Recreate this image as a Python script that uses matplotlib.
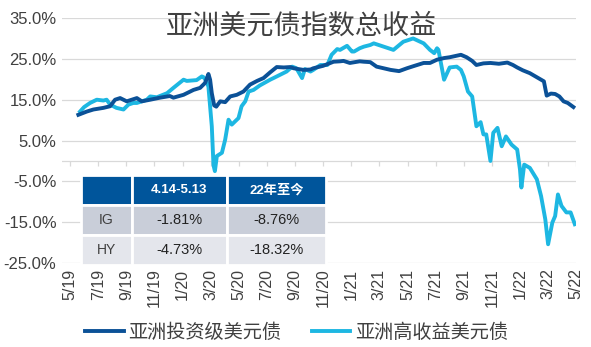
import matplotlib.pyplot as plt

# x = months since May 2019 (tick 0 = 5/19)
ig_m = [0.59, 1.19, 1.66, 2.37, 2.85, 3.2, 3.56, 4.03, 4.39, 4.75, 5.1, 5.7, 6.4, 7.1, 7.35,
        8.07, 8.78, 9.25, 9.6, 9.84, 9.96, 10.08, 10.25, 10.4, 10.68, 11.03, 11.39, 11.86,
        12.33, 12.8, 13.3, 13.76, 14.23, 14.7, 15.2, 15.66, 15.9, 16.6, 17.1, 17.3, 18.0,
        18.74, 19.2, 19.45, 19.9, 20.6, 20.9, 21.35, 21.8, 22.8, 23.4, 23.96, 24.5, 25.15,
        25.6, 26.1, 26.6, 27.0, 27.8, 28.2, 28.6, 28.9, 29.4, 29.9, 30.5, 31.1, 31.5, 31.8,
        32.2, 32.7, 33.2, 33.7, 33.9, 34.2, 34.5, 34.8, 35.1, 35.4, 35.8]
ig_v = [11.3, 12.1, 12.6, 13.0, 13.4, 15.0, 15.4, 14.6, 15.0, 15.4, 14.6, 15.0, 15.5, 15.9, 15.5,
        16.2, 17.4, 17.9, 19.1, 21.3, 19.9, 16.6, 13.6, 13.3, 14.6, 14.4, 15.8, 16.2,
        17.0, 18.7, 19.6, 20.3, 21.7, 23.0, 22.9, 23.0, 22.7, 22.3, 22.4, 22.7, 23.3,
        24.3, 24.4, 24.5, 24.0, 24.4, 24.3, 24.2, 23.1, 22.3, 22.0, 22.7, 23.3, 24.0,
        24.0, 24.8, 25.2, 25.4, 26.0, 25.4, 24.5, 23.5, 23.9, 24.0, 23.8, 24.1, 23.5, 22.9,
        22.2, 21.5, 20.5, 19.5, 16.0, 16.5, 16.4, 15.8, 14.6, 14.2, 13.2]

hy_m = [0.71, 1.0, 1.42, 1.9, 2.37, 2.6, 2.85, 3.3, 3.8, 4.15, 4.5, 4.75, 5.46, 5.7, 6.17,
        6.9, 7.35, 8.07, 8.3, 9.0, 9.37, 9.5, 9.7, 9.84, 10.08, 10.2, 10.3, 10.44, 10.8,
        11.03, 11.27, 11.5, 11.98, 12.2, 12.46, 12.7, 13.05, 13.5, 14.23, 14.47, 15.4, 15.8,
        16.1, 16.5, 16.7, 17.1, 17.3, 17.8, 18.3, 18.6, 19.0, 19.2, 19.7, 20.05, 20.2, 20.6,
        20.9, 21.35, 21.6, 22.3, 23.0, 23.7, 24.4, 25.15, 25.6, 25.9, 26.1, 26.2, 26.6, 27.0,
        27.5, 27.8, 28.0, 28.3, 28.6, 28.9, 29.2, 29.4, 29.6, 29.9, 30.1, 30.4, 30.7, 31.0,
        31.4, 31.8, 32.0, 32.1, 32.3, 32.7, 33.2, 33.5, 33.8, 34.0, 34.3, 34.5, 34.7, 34.95,
        35.3, 35.6, 35.9]
hy_v = [12.1, 13.2, 14.2, 15.0, 14.8, 15.0, 13.8, 13.0, 12.6, 13.8, 14.2, 14.2, 15.0, 15.8, 15.6,
        16.6, 17.9, 19.9, 19.6, 19.8, 20.7, 20.5, 19.5, 18.2, 8.5, -1.0, -2.5, 1.2, 2.0,
        5.2, 10.1, 8.9, 10.5, 13.4, 14.6, 17.0, 17.4, 18.5, 19.9, 20.3, 21.9, 23.1,
        22.7, 20.3, 22.5, 21.9, 22.3, 23.5, 23.5, 26.0, 27.4, 27.2, 28.2, 26.8, 26.8, 27.6,
        28.0, 28.4, 28.8, 28.0, 27.2, 29.2, 30.0, 28.8, 27.2, 26.4, 27.6, 27.2, 19.9, 22.9,
        23.1, 22.3, 20.7, 17.0, 15.8, 8.5, 9.5, 6.5, 6.5, 0.0, 6.9, 8.1, 3.6, 6.0,
        4.0, 2.8, -2.1, -6.5, -0.9, -1.7, -4.5, -8.6, -14.3, -20.4, -15.1, -13.5, -8.2, -11.0,
        -12.6, -12.6, -15.5]

tick_pos = list(range(0, 37, 2))
tick_labels = ['5/19', '7/19', '9/19', '11/19', '1/20', '3/20', '5/20', '7/20', '9/20', '11/20',
               '1/21', '3/21', '5/21', '7/21', '9/21', '11/21', '1/22', '3/22', '5/22']
y_ticks = [-25, -15, -5, 5, 15, 25, 35]

col_labels = ['', '4.14-5.13', '22年至今']
rows = [['IG', '-1.81%', '-8.76%'],
        ['HY', '-4.73%', '-18.32%']]

dark = '#0B5197'
light = '#1DB7E2'
txt = '#404040'
cjk = ['Noto Sans CJK SC', 'DejaVu Sans']

fig = plt.figure(figsize=(5.91, 3.47), dpi=100)
ax = fig.add_axes([0.105, 0.242, 0.87, 0.706])

for y in y_ticks:
    ax.axhline(y, color='#D9D9D9', linewidth=0.9, zorder=0)
ax.axhline(0, color='#D9D9D9', linewidth=0.9, zorder=0)
ax.vlines(tick_pos, -1.2, 0, color='#D9D9D9', linewidth=0.9, zorder=0)

ax.plot(ig_m, ig_v, color=dark, linewidth=2.8, label='亚洲投资级美元债', zorder=3)
ax.plot(hy_m, hy_v, color=light, linewidth=2.8, label='亚洲高收益美元债', zorder=2)

ax.set_xlim(-0.57, 36.0)
ax.set_ylim(-25, 35)
ax.set_yticks(y_ticks)
ax.set_yticklabels([f'{y:.1f}%' for y in y_ticks], fontsize=12, color=txt,
                   fontfamily='Liberation Sans')
ax.set_xticks(tick_pos)
ax.set_xticklabels(tick_labels, rotation=90, fontsize=11.5, color=txt,
                   fontfamily='Liberation Sans')
ax.tick_params(length=0, pad=4)
for s in ax.spines.values():
    s.set_visible(False)

# table
tb = ax.table(cellText=rows, colLabels=col_labels, colWidths=[50, 93, 98],
              bbox=[0.037, -0.008, 0.477, 0.367], cellLoc='center')
tb.auto_set_font_size(False)
for (r, c), cell in tb.get_celld().items():
    cell.set_edgecolor('white')
    cell.set_linewidth(2)
    t = cell.get_text()
    t.set_fontfamily(['Liberation Sans', 'Noto Sans CJK SC'])
    if r == 0:
        cell.set_facecolor('#00559B')
        t.set_color('white')
        t.set_fontweight('bold')
        t.set_fontsize(9.5)
    else:
        cell.set_facecolor('#C9CED9' if r == 1 else '#E4E6EC')
        t.set_color('#222222' if c > 0 else txt)
        t.set_fontsize(10.5 if c > 0 else 10)
    cell.set_zorder(5)

fig.text(0.51, 0.925, '亚洲美元债指数总收益', fontsize=19.5, color=txt, family=cjk,
         ha='center', va='center')

leg = fig.legend(loc='center', bbox_to_anchor=(0.502, 0.043), ncol=2, frameon=False,
                 prop={'family': cjk, 'size': 13.8}, handlelength=2.0, handletextpad=0.25,
                 columnspacing=1.6)
for t in leg.get_texts():
    t.set_color(txt)

fig.savefig('out.png', dpi=100)
